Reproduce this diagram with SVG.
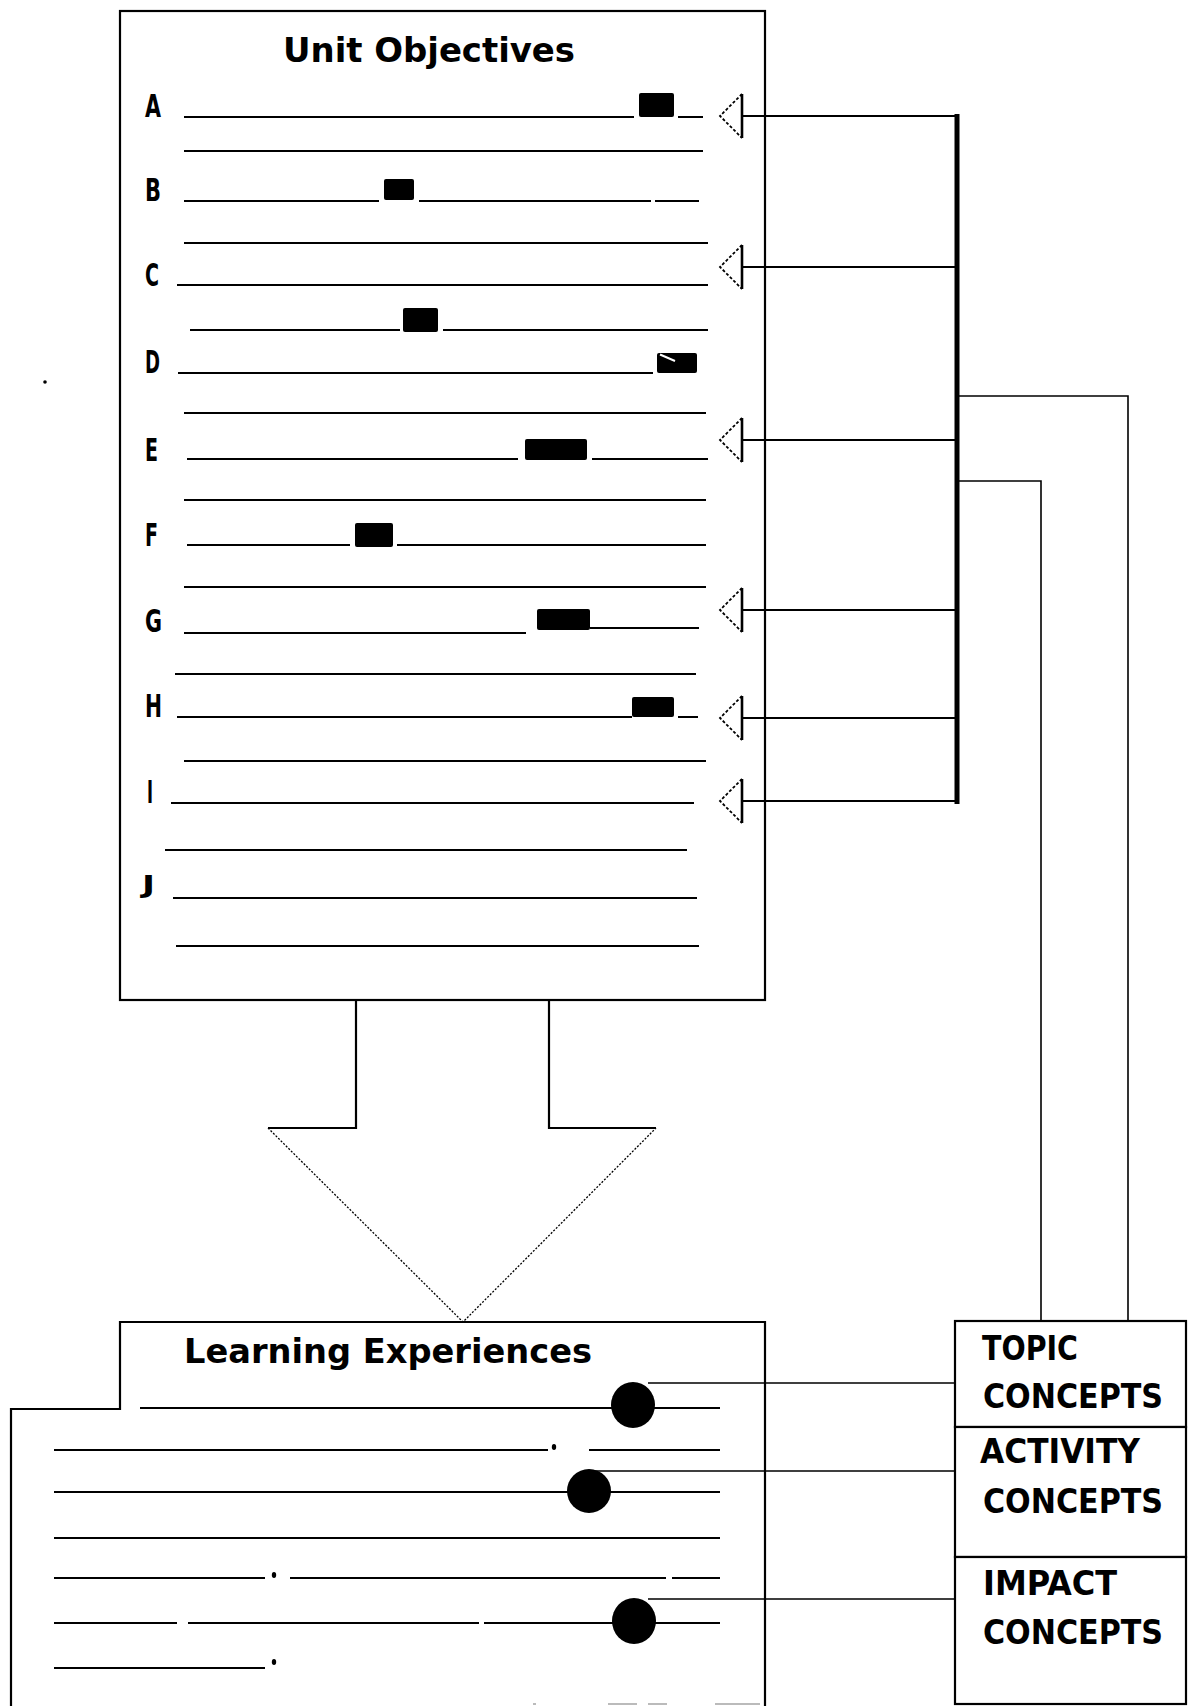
<svg xmlns="http://www.w3.org/2000/svg" width="1188" height="1706" viewBox="0 0 1188 1706">
<style>
.bx{fill:#fff;stroke:#000;stroke-width:2.2}
.ln{stroke:#000;stroke-width:2.2;fill:none}
.thin{stroke:#000;stroke-width:1.6;fill:none}
.dot{stroke:#000;stroke-width:1.3;fill:none;stroke-dasharray:2 1.6}
.blk{fill:#000}
.t{font-family:"DejaVu Sans Condensed","Liberation Sans Narrow","Liberation Sans",sans-serif;font-weight:bold;fill:#000}
.ttl{font-size:33px}
.let{font-size:32px}
.cc{font-size:34px}
</style>
<defs>
<g id="tri">
<line x1="0" y1="-22" x2="0" y2="22" stroke="#000" stroke-width="2.6"/>
<polyline points="0,-22 -22,0 0,22" fill="none" stroke="#000" stroke-width="1.8" stroke-dasharray="3 2"/>
</g>
</defs>
<rect width="1188" height="1706" fill="#fff"/>
<circle cx="45" cy="382" r="1.8" fill="#000"/>

<g id="node-unit-objectives">
<rect class="bx" x="120" y="11" width="645" height="989"/>
<text class="t ttl" x="283" y="62" textLength="292" lengthAdjust="spacingAndGlyphs">Unit Objectives</text>
<g class="t let">
<text x="145" y="117" textLength="16" lengthAdjust="spacingAndGlyphs">A</text>
<text x="145" y="201" textLength="16" lengthAdjust="spacingAndGlyphs">B</text>
<text x="145" y="286" textLength="14" lengthAdjust="spacingAndGlyphs">C</text>
<text x="145" y="373" textLength="15" lengthAdjust="spacingAndGlyphs">D</text>
<text x="145" y="461" textLength="13" lengthAdjust="spacingAndGlyphs">E</text>
<text x="145" y="546" textLength="13" lengthAdjust="spacingAndGlyphs">F</text>
<text x="145" y="632" textLength="17" lengthAdjust="spacingAndGlyphs">G</text>
<text x="145" y="717" textLength="17" lengthAdjust="spacingAndGlyphs">H</text>
<text x="147" y="803" textLength="6" lengthAdjust="spacingAndGlyphs">I</text>
<text x="142" y="893" font-size="25" textLength="13" lengthAdjust="spacingAndGlyphs">J</text>
</g>
<path class="ln" d="M184 117H634M678 117H703
M184 151H703
M184 201H379M419 201H651M655 201H699
M184 243H708
M177 285H708
M190 330H400M443 330H708
M178 373H653
M184 413H706
M187 459H518M592 459H708
M184 500H706
M187 545H350M397 545H706
M184 587H706
M184 633H526M590 628H699
M175 674H696
M177 717H632M678 717H698
M184 761H706
M171 803H694
M165 850H687
M173 898H697
M176 946H699"/>
<g class="blk">
<rect x="639" y="93" width="35" height="24" rx="2"/>
<rect x="384" y="179" width="30" height="21" rx="2"/>
<rect x="403" y="308" width="35" height="24" rx="2"/>
<rect x="657" y="353" width="40" height="20" rx="2"/>
<rect x="525" y="439" width="62" height="21" rx="2"/>
<rect x="355" y="523" width="38" height="24" rx="2"/>
<rect x="537" y="609" width="53" height="21" rx="2"/>
<rect x="632" y="697" width="42" height="20" rx="2"/>
</g>
<line x1="660" y1="354.5" x2="675" y2="361" stroke="#fff" stroke-width="2"/>
</g>

<g id="node-learning-experiences">
<path class="ln" d="M11 1706V1409H120V1322H765V1706"/>
<text class="t ttl" x="184" y="1363" textLength="408" lengthAdjust="spacingAndGlyphs">Learning Experiences</text>
<path class="ln" d="M140 1408H720
M54 1450H548M589 1450H720
M54 1492H720
M54 1538H720
M54 1578H265M290 1578H666M672 1578H720
M54 1623H177M188 1623H479M484 1623H720
M54 1668H265"/>
<g class="blk">
<ellipse cx="633" cy="1405" rx="22" ry="23"/>
<ellipse cx="589" cy="1491" rx="22" ry="22"/>
<ellipse cx="634" cy="1621" rx="22" ry="23"/>
<ellipse cx="554" cy="1447" rx="2.2" ry="3"/>
<ellipse cx="274" cy="1575" rx="2.2" ry="3"/>
<ellipse cx="274" cy="1662" rx="2.2" ry="3"/>
</g>
<path d="M533 1704H536M608 1704H637M648 1704H667M715 1704H760" stroke="#bbb" stroke-width="2"/>
</g>

<g id="node-topic-concepts">
<rect class="bx" x="955" y="1321" width="231" height="106"/>
<text class="t cc" x="982" y="1360" textLength="96" lengthAdjust="spacingAndGlyphs">TOPIC</text>
<text class="t cc" x="983" y="1408" textLength="180" lengthAdjust="spacingAndGlyphs">CONCEPTS</text>
</g>
<g id="node-activity-concepts">
<rect class="bx" x="955" y="1427" width="231" height="130"/>
<text class="t cc" x="980" y="1463" textLength="160" lengthAdjust="spacingAndGlyphs">ACTIVITY</text>
<text class="t cc" x="983" y="1513" textLength="180" lengthAdjust="spacingAndGlyphs">CONCEPTS</text>
</g>
<g id="node-impact-concepts">
<rect class="bx" x="955" y="1557" width="231" height="147"/>
<text class="t cc" x="983" y="1595" textLength="134" lengthAdjust="spacingAndGlyphs">IMPACT</text>
<text class="t cc" x="983" y="1644" textLength="180" lengthAdjust="spacingAndGlyphs">CONCEPTS</text>
</g>

<g id="connectors">
<path class="ln" d="M742 116H957M742 267H957M742 440H957M742 610H957M742 718H957M742 801H957"/>
<line x1="957" y1="114" x2="957" y2="804" stroke="#000" stroke-width="5"/>
<path class="thin" d="M957 396H1128V1321M957 481H1041V1321"/>
<use href="#tri" x="742" y="116"/>
<use href="#tri" x="742" y="267"/>
<use href="#tri" x="742" y="440"/>
<use href="#tri" x="742" y="610"/>
<use href="#tri" x="742" y="718"/>
<use href="#tri" x="742" y="801"/>
<path class="thin" d="M648 1383H955M585 1471H955M648 1599H955"/>
<g id="big-arrow">
<path class="ln" d="M356 1000V1128H268M656 1128H549V1000"/>
<path class="dot" d="M268 1128L463 1322L656 1128"/>
</g>
</g>
</svg>
